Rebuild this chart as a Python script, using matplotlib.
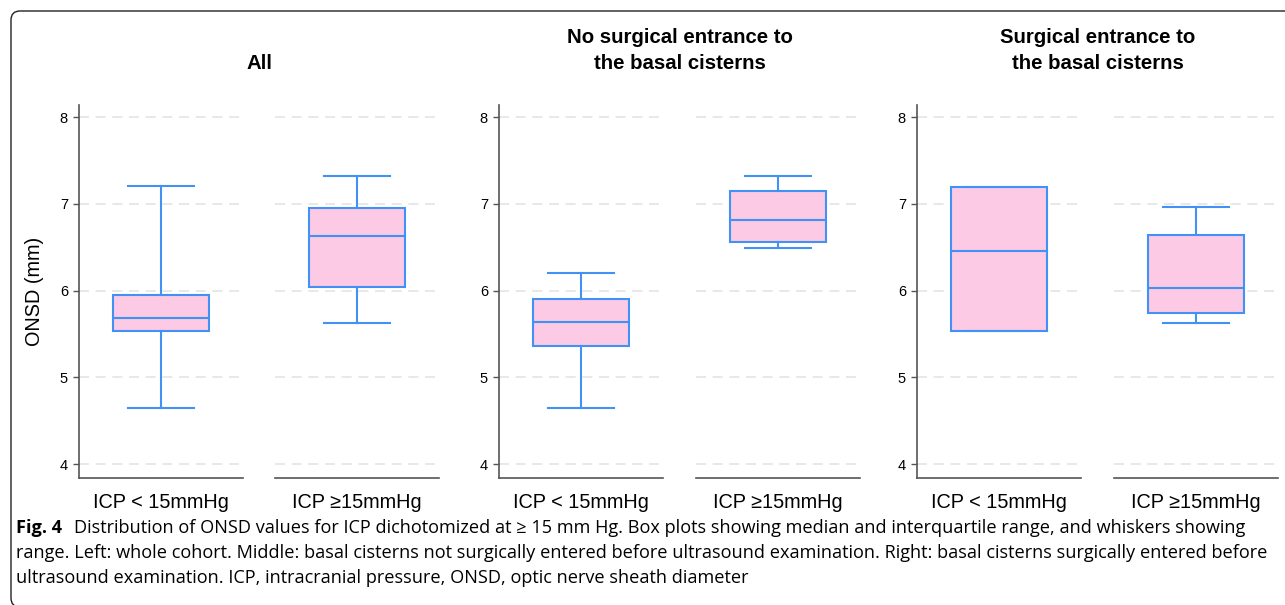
import matplotlib.pyplot as plt
from matplotlib.patches import FancyBboxPatch
from matplotlib.transforms import IdentityTransform

# Данные
panel_titles = ['All',
                'No surgical entrance to\nthe basal cisterns',
                'Surgical entrance to\nthe basal cisterns']
groups = ['ICP < 15mmHg', 'ICP ≥15mmHg']
whislo = [[4.65, 5.63], [4.65, 6.49], [5.53, 5.63]]
q1 = [[5.53, 6.04], [5.36, 6.56], [5.53, 5.74]]
med = [[5.69, 6.63], [5.64, 6.81], [6.46, 6.03]]
q3 = [[5.95, 6.95], [5.90, 7.15], [7.20, 6.64]]
whishi = [[7.21, 7.32], [6.20, 7.32], [7.20, 6.96]]
yticks = [4, 5, 6, 7, 8]

caption_bold = 'Fig. 4'
caption_lines = [
    'Distribution of ONSD values for ICP dichotomized at ≥ 15 mm Hg. Box plots showing median and interquartile range, and whiskers showing',
    'range. Left: whole cohort. Middle: basal cisterns not surgically entered before ultrasound examination. Right: basal cisterns surgically entered before',
    'ultrasound examination. ICP, intracranial pressure, ONSD, optic nerve sheath diameter',
]

W, H = 1285, 605
plt.rcParams['font.family'] = ['Liberation Sans', 'DejaVu Sans']
fig = plt.figure(figsize=(W / 100, H / 100), dpi=100)

fill = '#fccae4'
edge = '#4291f5'
spine_c = '#555555'

# левые края осей в пикселях
left_px = [[79, 275], [499, 696], [917, 1114]]
ax_w = 164
top_px, bot_px = 105, 478

for p in range(3):
    for g in range(2):
        x0 = left_px[p][g]
        ax = fig.add_axes([x0 / W, 1 - bot_px / H, ax_w / W, (bot_px - top_px) / H])
        stats = [dict(whislo=whislo[p][g], q1=q1[p][g], med=med[p][g],
                      q3=q3[p][g], whishi=whishi[p][g], fliers=[])]
        ax.bxp(stats, positions=[0.5], widths=0.59, capwidths=0.4,
               patch_artist=True, showfliers=False,
               boxprops=dict(facecolor=fill, edgecolor=edge, linewidth=1.5),
               medianprops=dict(color=edge, linewidth=1.5),
               whiskerprops=dict(color=edge, linewidth=1.5),
               capprops=dict(color=edge, linewidth=1.5))
        ax.set_xlim(0, 1)
        ax.set_ylim(3.84, 8.14)
        ax.set_yticks(yticks)
        ax.yaxis.grid(True, linestyle=(0, (6, 4)), color='#e4e4e4', linewidth=1.2)
        ax.set_axisbelow(True)
        ax.set_xticks([0.5])
        ax.set_xticklabels([groups[g]], fontsize=14.3)
        ax.tick_params(axis='x', length=0, pad=10.5)
        for s in ['top', 'right']:
            ax.spines[s].set_visible(False)
        ax.spines['bottom'].set_color(spine_c)
        ax.spines['bottom'].set_linewidth(1.2)
        if g == 0:
            ax.spines['left'].set_color(spine_c)
            ax.spines['left'].set_linewidth(1.2)
            ax.tick_params(axis='y', length=4, width=1, color=spine_c,
                           labelsize=10.5, pad=4)
            if p == 0:
                ax.set_ylabel('ONSD (mm)', fontsize=14.3)
                ax.yaxis.set_label_coords(-0.215, 0.5)
        else:
            ax.spines['left'].set_visible(False)
            ax.tick_params(axis='y', left=False, labelleft=False)

# заголовки панелей
for p in range(3):
    xc = (left_px[p][0] + left_px[p][1] + ax_w) / 2
    fig.text(xc / W, 1 - 69 / H, panel_titles[p], ha='center', va='baseline',
             fontsize=14.7, fontweight='bold', linespacing=1.45)

# подпись к рисунку
cap_font = ['Open Sans', 'DejaVu Sans']
size = 11.5
renderer = fig.canvas.get_renderer()
t = fig.text(0, 0, caption_lines[1], fontsize=size, family=cap_font)
w = t.get_window_extent(renderer).width
t.remove()
size = size * 1252 / w

tb = fig.text(16 / W, 1 - 533 / H, caption_bold, fontsize=size, family=cap_font,
              fontweight='bold', va='baseline')
wb = tb.get_window_extent(renderer).width
fig.text((16 + wb + 12) / W, 1 - 533 / H, caption_lines[0], fontsize=size,
         family=cap_font, va='baseline')
fig.text(16 / W, 1 - 558 / H, caption_lines[1], fontsize=size, family=cap_font, va='baseline')
fig.text(16 / W, 1 - 583 / H, caption_lines[2], fontsize=size, family=cap_font, va='baseline')

# рамка
frame = FancyBboxPatch((11, -2), 1400, H - 11 + 2,
                       boxstyle='round,pad=0,rounding_size=9',
                       transform=IdentityTransform(), fill=False,
                       edgecolor='#222222', linewidth=1.0)
fig.patches.append(frame)

plt.savefig('out.png', dpi=100)
